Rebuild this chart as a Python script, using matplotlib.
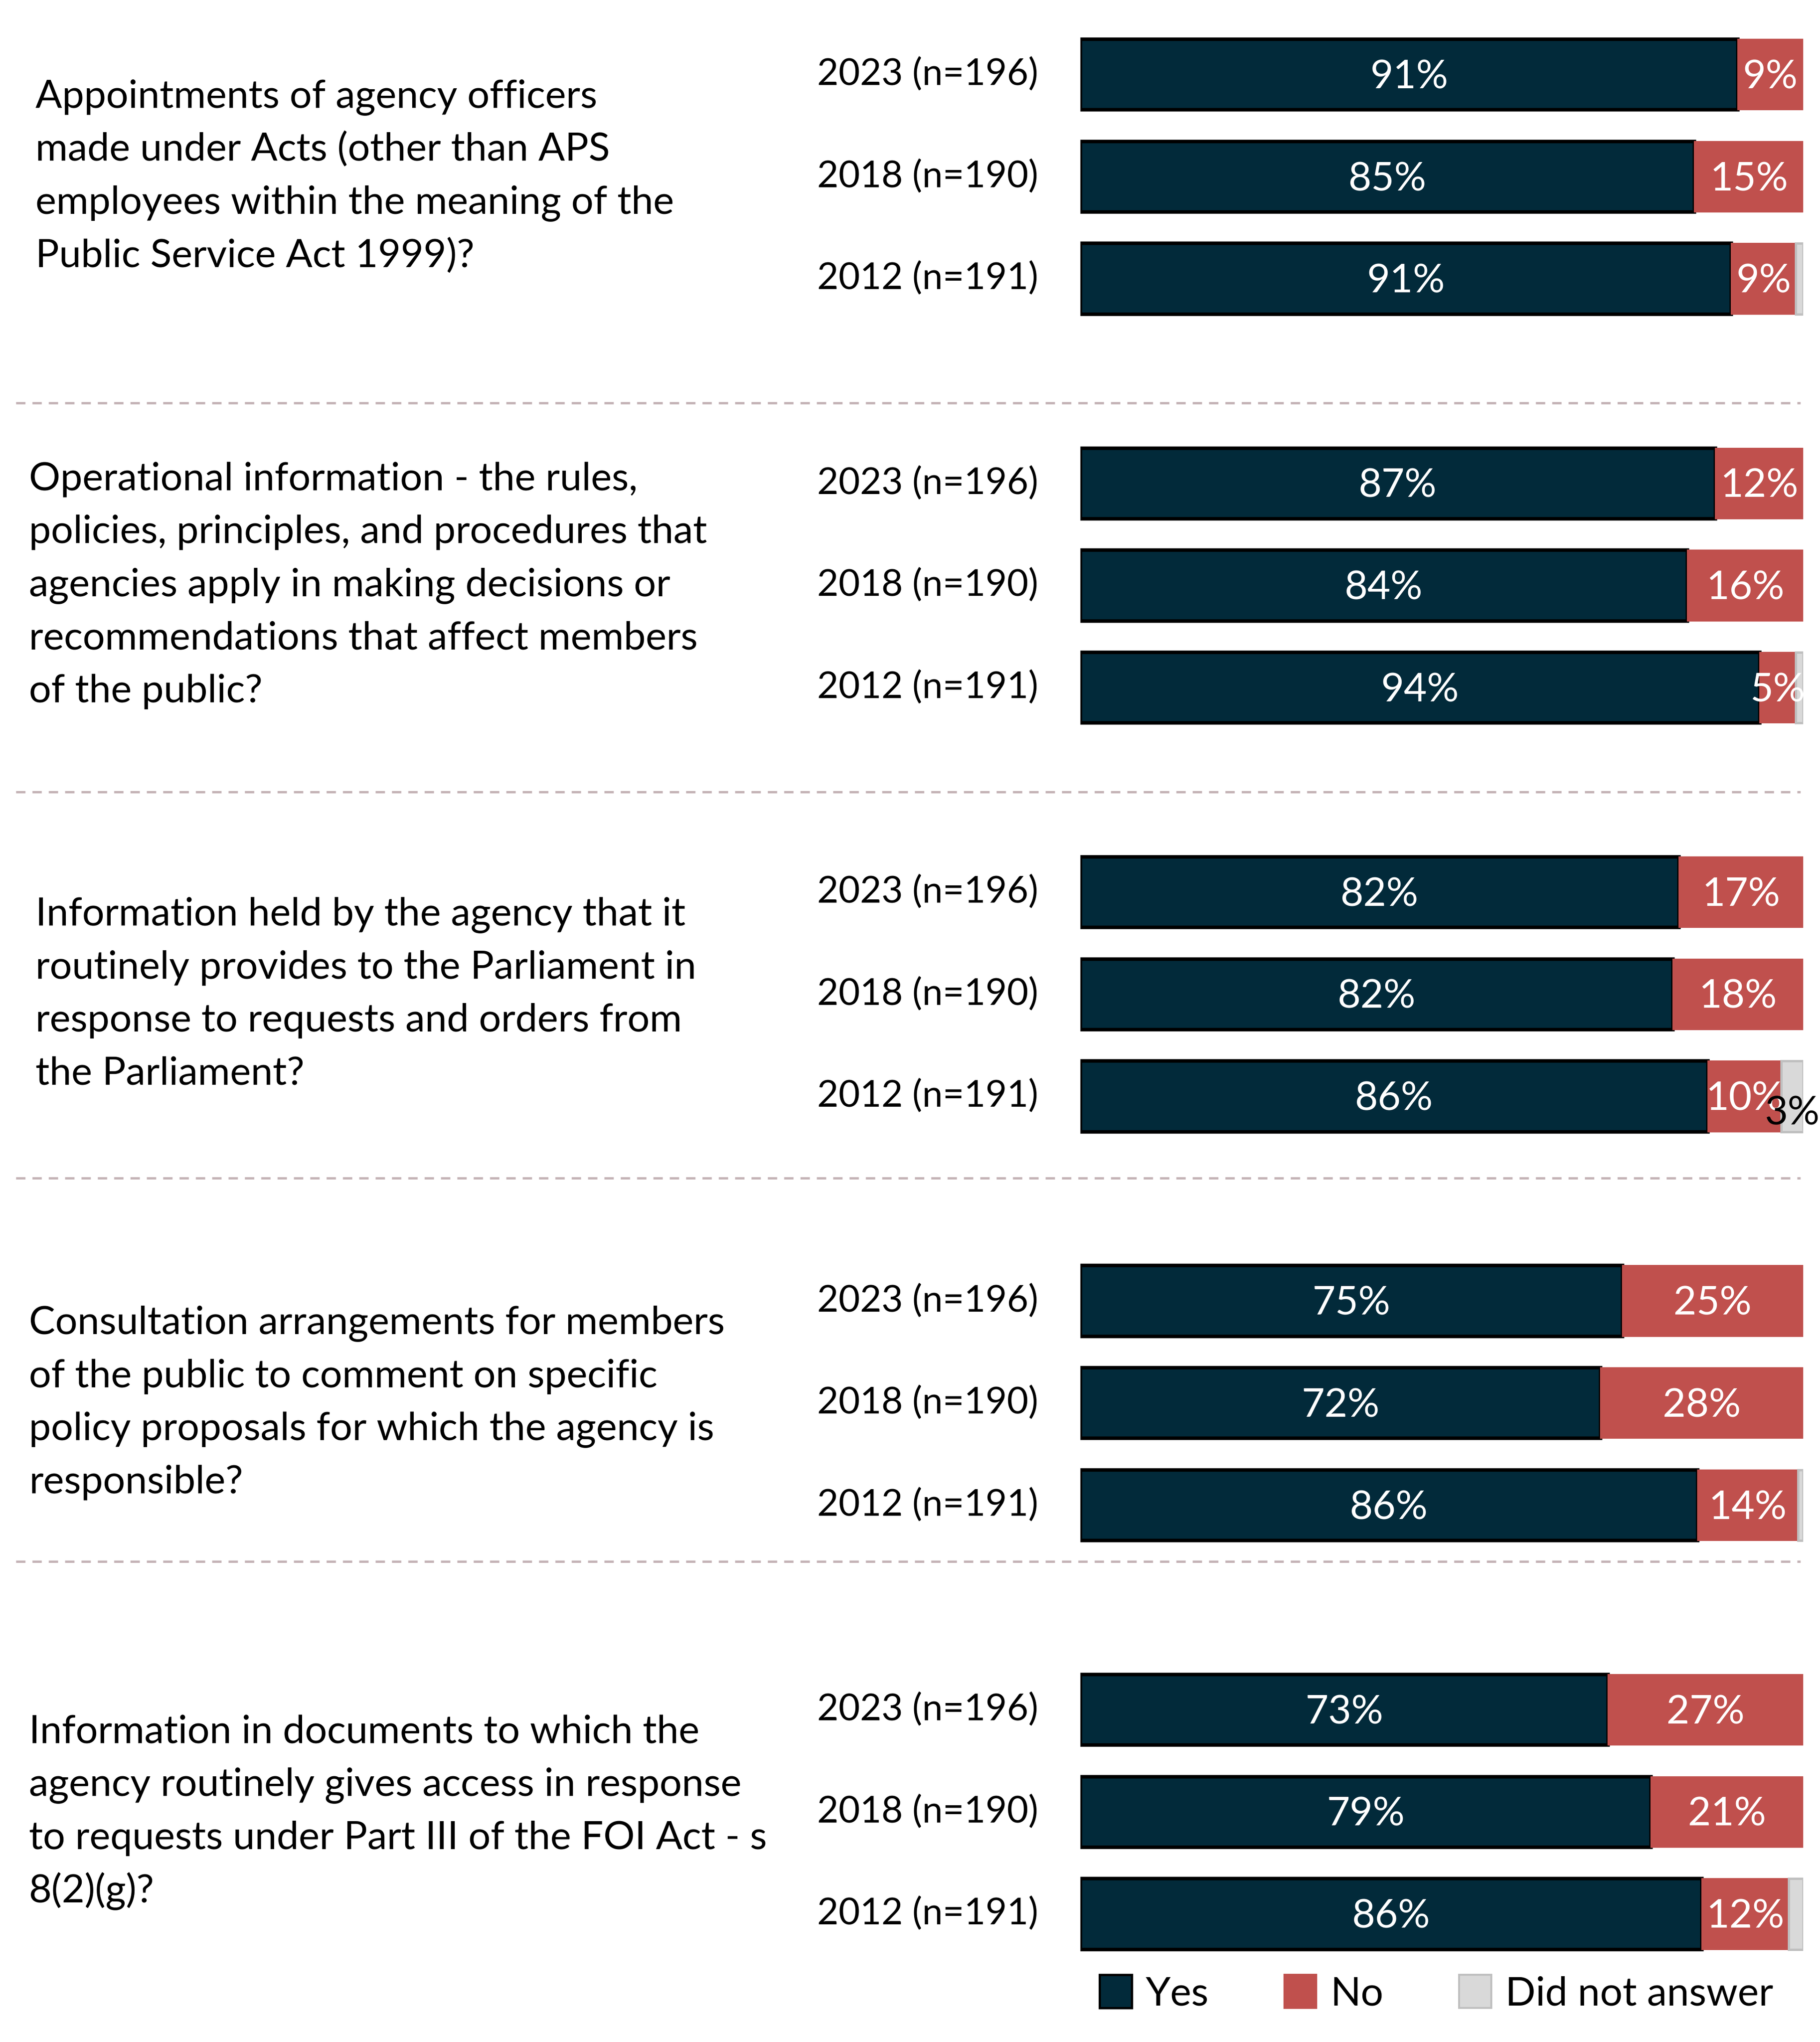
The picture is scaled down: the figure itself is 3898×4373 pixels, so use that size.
import matplotlib
matplotlib.use("Agg")
import matplotlib.pyplot as plt
from matplotlib.patches import Patch
import numpy as np

plt.rcParams['font.family'] = ['Lato', 'DejaVu Sans']

# survey questions, one per group
questions = [
    ["Appointments of agency officers",
     "made under Acts (other than APS",
     "employees within the meaning of the",
     "Public Service Act 1999)?"],
    ["Operational information - the rules,",
     "policies, principles, and procedures that",
     "agencies apply in making decisions or",
     "recommendations that affect members",
     "of the public?"],
    ["Information held by the agency that it",
     "routinely provides to the Parliament in",
     "response to requests and orders from",
     "the Parliament?"],
    ["Consultation arrangements for members",
     "of the public to comment on specific",
     "policy proposals for which the agency is",
     "responsible?"],
    ["Information in documents to which the",
     "agency routinely gives access in response",
     "to requests under Part III of the FOI Act - s",
     "8(2)(g)?"],
]
years = ['2023 (n=196)', '2018 (n=190)', '2012 (n=191)']

yes = [[91, 85, 91], [87, 84, 94], [82, 82, 86], [75, 72, 86], [73, 79, 86]]
no = [[9, 15, 9], [12, 16, 5], [17, 18, 10], [25, 28, 14], [27, 21, 12]]
dna = [[0, 0, 1], [0, 0, 1], [0, 0, 3], [0, 0, 0.7], [0, 0, 2]]

c_yes = '#022A3A'
c_no = '#C0504D'
c_dna = '#D9D9D9'

W, H = 1390, 1560  # layout units
fig = plt.figure(figsize=(3898 / 300, 4373 / 300), dpi=300)

base = fig.add_axes([0, 0, 1, 1])
base.set_xlim(0, W)
base.set_ylim(H, 0)
base.axis('off')

bx0, bx1 = 825, 1377
ax = fig.add_axes([bx0 / W, 0, (bx1 - bx0) / W, 1])
ax.set_xlim(0, 100)
ax.set_ylim(H, 0)
ax.axis('off')

fs_q = 20.2
fs_y = 19
fs_v = 20.5
top = 57
gstep = 312.3
rstep = 78
bar_h = 54
line_h = 40.5
text_x = [27, 22, 27, 22, 22]
sep_y = [308, 605, 900, 1193]

for g, q in enumerate(questions):
    mid = top + g * gstep + rstep
    n = len(q)
    for i, line in enumerate(q):
        y = mid + (i - (n - 1) / 2) * line_h
        base.text(text_x[g], y, line, fontsize=fs_q, ha='left', va='center')
    for r in range(3):
        y = top + g * gstep + r * rstep
        vals = [yes[g][r], no[g][r], dna[g][r]]
        tot = sum(vals)
        w = [v / tot * 100 for v in vals]
        base.text(793, y, years[r], fontsize=fs_y, ha='right', va='center')
        ax.barh(y, w[0], height=bar_h, color=c_yes, edgecolor='black', linewidth=1.8)
        ax.barh(y, w[1], left=w[0], height=bar_h, color=c_no, edgecolor=c_no, linewidth=0.5)
        if vals[2] > 0:
            ax.barh(y, w[2], left=w[0] + w[1], height=bar_h, color=c_dna,
                    edgecolor='#BFBFBF', linewidth=1.2)
        ax.text(w[0] / 2, y + 2, f"{vals[0]:.0f}%", color='white', fontsize=fs_v,
                ha='center', va='center')
        ax.text(w[0] + w[1] / 2, y + 2, f"{vals[1]:.0f}%", color='white', fontsize=fs_v,
                ha='center', va='center')
        if vals[2] >= 3:
            ax.text(w[0] + w[1] + w[2] / 2, y + 13, f"{vals[2]:.0f}%", color='black',
                    fontsize=fs_v, ha='center', va='center')

for y in sep_y:
    base.plot([12, 1375], [y, y], color='#C4B3B6', linewidth=1.2, linestyle=(0, (4, 3)))

handles = [Patch(facecolor=c_yes, edgecolor='black', linewidth=1.2),
           Patch(facecolor=c_no, edgecolor=c_no),
           Patch(facecolor=c_dna, edgecolor='#BFBFBF')]
fig.legend(handles, ['Yes', 'No', 'Did not answer'], ncol=3, loc='center',
           bbox_to_anchor=(1097 / W, 1 - 1523 / H), frameon=False, fontsize=fs_v,
           handlelength=0.8, handleheight=0.9, handletextpad=0.35, columnspacing=1.9)

fig.savefig('out.png', dpi=300, facecolor='white')
